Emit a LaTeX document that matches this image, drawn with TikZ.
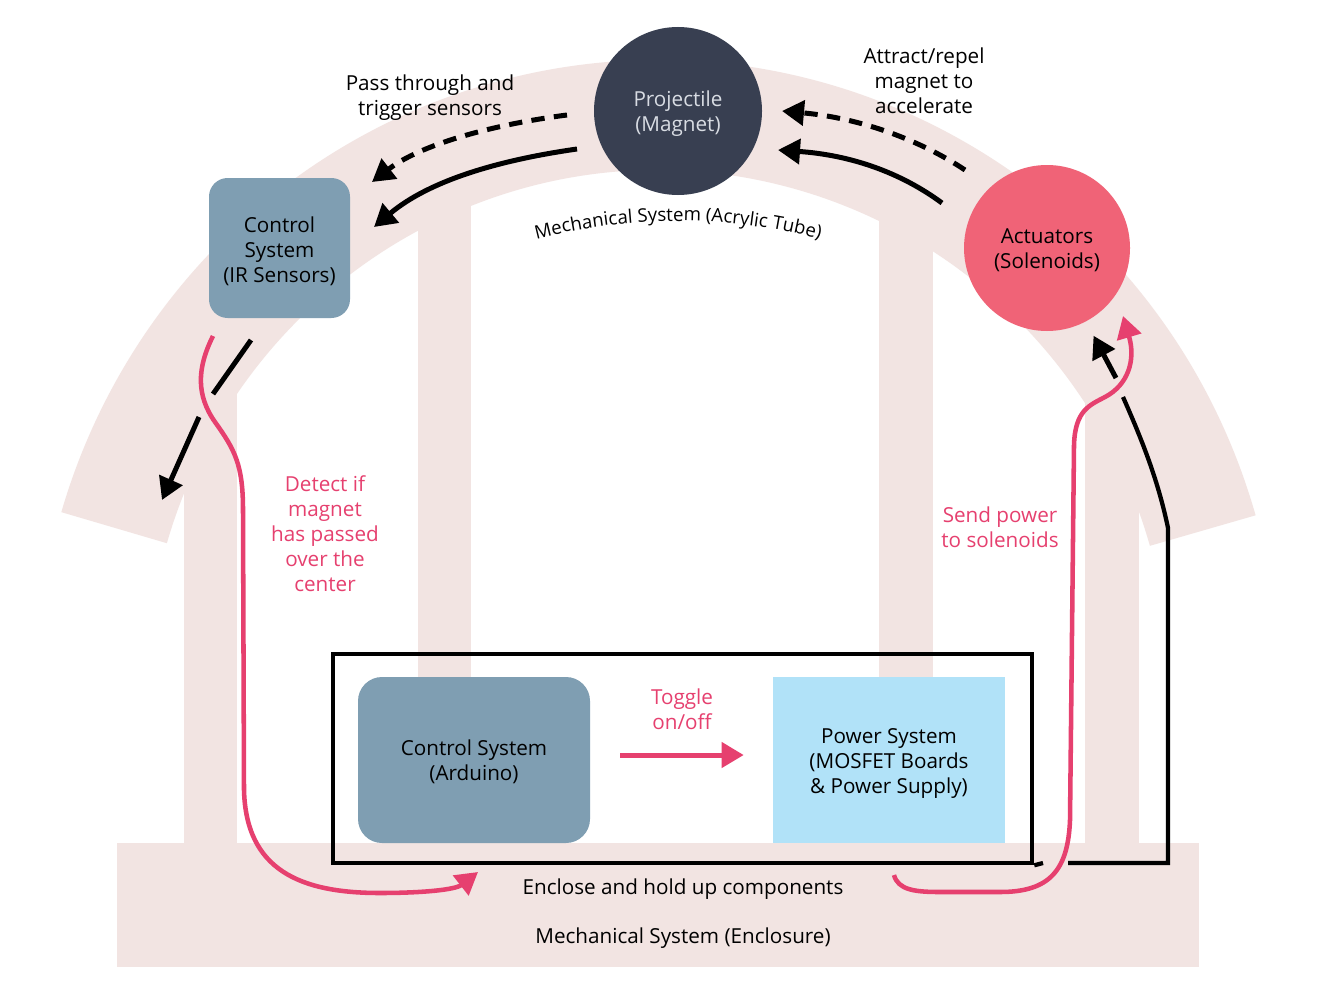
\documentclass[tikz,border=0pt]{standalone}
\usepackage{fontspec}
\setmainfont{Open Sans}
\usetikzlibrary{arrows.meta,decorations.text,fit,calc}
\definecolor{band}{HTML}{F2E4E2}
\definecolor{steel}{HTML}{7F9EB2}
\definecolor{navy}{HTML}{383F51}
\definecolor{coral}{HTML}{F06377}
\definecolor{skyb}{HTML}{B1E2F8}
\definecolor{pinkl}{HTML}{E6406F}
\definecolor{lgray}{HTML}{D8DCE3}
\begin{document}
\begin{tikzpicture}[x=0.75pt,y=-0.75pt,
  lbl/.style={font=\fontsize{15.5}{18.75}\selectfont, align=center, inner sep=0pt},
  plbl/.style={lbl, text=pinkl},
  tip/.style={-{Triangle[length=16.5pt,width=18.5pt]}},
  blk/.style={line width=3.75pt, draw=black},
  dsh/.style={blk, dash pattern=on 10pt off 7pt},
  rline/.style={line width=3.2pt, draw=black, line join=miter},
  pnk/.style={line width=3.4pt, draw=pinkl},
  bandfill/.style={fill=band}
]
\useasboundingbox (0,0) rectangle (1326,995);
\fill[white] (0,0) rectangle (1326,995);
% arch band
\coordinate (ac) at (658,690);
\fill[bandfill] ($(ac)+({622*cos(-16.1)},{630*sin(-16.1)})$)
   arc[start angle=-16.1, end angle=-163.6, x radius=622, y radius=630]
   -- ($(ac)+({512*cos(-163.6)},{520*sin(-163.6)})$)
   arc[start angle=-163.6, end angle=-16.1, x radius=512, y radius=520] -- cycle;
% pillars
\fill[bandfill] (184,370) rectangle (237,850);
\fill[bandfill] (418,200) rectangle (471,850);
\fill[bandfill] (879,200) rectangle (933,850);
\fill[bandfill] (1085,370) rectangle (1139,850);
% base
\fill[bandfill] (117,843) rectangle (1199,967);

% curved label
\coordinate (tc) at (678,781);
\path[decorate, decoration={text along path, text align=center,
   text={|\fontsize{14}{16}\selectfont|Mechanical System (Acrylic Tube)}}]
   ($(tc)+(-106:560)$) arc[start angle=-106, end angle=-74, radius=560];

% nodes
\node[circle, fill=navy, minimum size={168*0.75pt}, inner sep=0pt] (proj) at (678,111) {};
\node[lbl, text=lgray] (projt) at ([yshift=-2.25pt]proj.center) {Projectile\\(Magnet)};
\node[circle, fill=coral, minimum size={166*0.75pt}, inner sep=0pt] (act) at (1047,248) {};
\node[lbl] (actt) at ([yshift=-1.5pt]act.center) {Actuators\\(Solenoids)};
\node[fill=steel, rounded corners=14pt, minimum width={141*0.75pt}, minimum height={140*0.75pt}, inner sep=0pt] (ir) at (279.5,248) {};
\node[lbl] (irt) at ([yshift=-2.25pt]ir.center) {Control\\System\\(IR Sensors)};
\node[fill=steel, rounded corners=18pt, minimum width={232*0.75pt}, minimum height={166*0.75pt}, inner sep=0pt] (ard) at (474,760) {};
\node[lbl] (ardt) at ([yshift=-1.5pt]ard.center) {Control System\\(Arduino)};
\node[fill=skyb, minimum width={232*0.75pt}, minimum height={166*0.75pt}, inner sep=0pt] (pwr) at (889,760) {};
\node[lbl] (pwrt) at ([yshift=-2.25pt]pwr.center) {Power System\\(MOSFET Boards\\\& Power Supply)};
\coordinate (e1) at (333,654);
\coordinate (e2) at (1032,863);
\node[fit=(e1)(e2), inner sep=0pt, draw, line width=3.4pt] (encl) {};

% labels
\node[lbl] (l1) at (430,97.5) {Pass through and\\trigger sensors};
\node[lbl] (l2) at (924,81) {Attract/repel\\magnet to\\accelerate};
\node[plbl] (l3) at (325,534) {Detect if\\magnet\\has passed\\over the\\center};
\node[plbl] (l4) at (1000,527) {Send power\\to solenoids};
\node[plbl] (l5) at (682,709) {Toggle\\on/off};
\node[lbl] (l6) at (683,889.5) {Enclose and hold up components};
\node[lbl] (l7) at (683,938.5) {Mechanical System (Enclosure)};

% top arrows
\coordinate (d1s) at (567,115); \coordinate (d1e) at (372,182);
\draw[dsh, tip] (d1s) .. controls (490,125) and (420,145) .. (d1e);
\coordinate (s1s) at (577,149); \coordinate (s1e) at (374,227);
\draw[blk, tip] (s1s) .. controls (500,160) and (430,180) .. (s1e);
\coordinate (d2s) at (965,170); \coordinate (d2e) at (782,111);
\draw[dsh, tip] (d2s) .. controls (920,140) and (860,118) .. (d2e);
\coordinate (s2s) at (942,203); \coordinate (s2e) at (778,150);
\draw[blk, tip] (s2s) .. controls (900,172) and (850,155) .. (s2e);

% left black connector (broken)
\coordinate (lb1) at (251,340); \coordinate (lb2) at (213,394);
\coordinate (lb3) at (199,417); \coordinate (lb4) at (162,500);
\draw[blk] (lb1) -- (lb2);
\draw[blk, tip] (lb3) -- (lb4);

% left pink connector
\coordinate (lp0) at (213,336); \coordinate (lp1) at (478,872);
\draw[pnk, tip] (lp0) .. controls (197,368) and (196,395) .. (215,422)
   .. controls (235,450) and (243,465) .. (243,510) -- (244,790)
   .. controls (246,870) and (300,893) .. (380,893)
   .. controls (420,893) and (455,890) .. (lp1);

% toggle arrow
\draw[pnk, line width=3.75pt, tip, shorten <=22.5pt, shorten >=21.75pt]
   ([yshift=3.75pt]ard.east) -- ([yshift=3.75pt]pwr.west);

% right black connector (broken)
\coordinate (rb0) at (1043,863);
\coordinate (rb1) at (1068,863); \coordinate (rb2) at (1168,863);
\coordinate (rb3) at (1168,528); \coordinate (rb4) at (1123,397);
\coordinate (rb5) at (1116,378);
\draw[rline] (encl.south east) -- (rb0);
\draw[rline] (rb1) -- (rb2) -- (rb3) .. controls (1158,480) and (1142,440) .. (rb4);
\draw[blk, tip, shorten >=12pt] (rb5) -- (act);

% right pink connector
\coordinate (rp0) at (894,875); \coordinate (rp1) at (1123,316);
\draw[pnk, tip] (rp0) .. controls (898,890) and (915,892) .. (940,892) -- (1000,892)
   .. controls (1050,892) and (1068,870) .. (1070,820) -- (1074,445)
   .. controls (1075,410) and (1090,405) .. (1105,397)
   .. controls (1128,385) and (1136,360) .. (rp1);
\end{tikzpicture}
\end{document}
